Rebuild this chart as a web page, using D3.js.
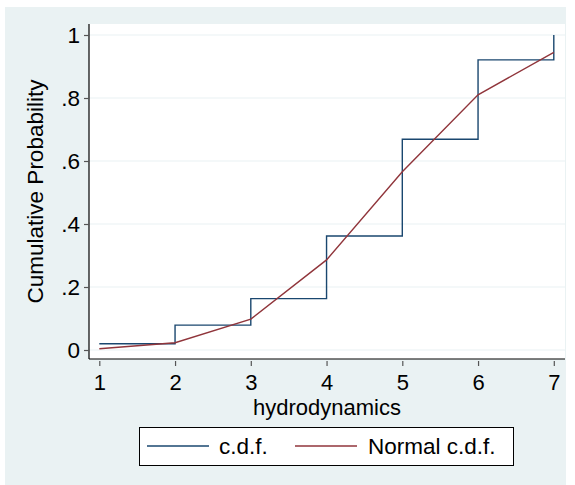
<!DOCTYPE html>
<html>
<head>
<meta charset="utf-8">
<script src="https://cdn.jsdelivr.net/npm/d3@7"></script>
<style>
  html, body { margin: 0; padding: 0; background: #ffffff; }
  svg { display: block; font-family: "Liberation Sans", Arial, sans-serif; }
</style>
</head>
<body>
<svg id="chart" width="575" height="485"></svg>
<script>
// ---- data ----
const xValues = [1, 2, 3, 4, 5, 6, 7];
const cdfValues = [0.02, 0.079, 0.163, 0.362, 0.669, 0.921, 1.0];
const normalValues = [0.004, 0.023, 0.098, 0.286, 0.566, 0.81, 0.945];
const xTicks = [1, 2, 3, 4, 5, 6, 7];
const yTicks = [0, 0.2, 0.4, 0.6, 0.8, 1];
const yTickLabels = ["0", ".2", ".4", ".6", ".8", "1"];
const seriesNames = ["c.d.f.", "Normal c.d.f."];
const seriesColors = ["#1a476f", "#90353b"];

// ---- layout ----
const svg = d3.select("#chart");
const bg = "#eaf2f3";
const plot = { left: 89, right: 565, top: 24, bottom: 359 };
const fontSize = 22.5;
const tickFont = 22;

svg.append("rect").attr("x", 5).attr("y", 7).attr("width", 561).attr("height", 478).attr("fill", bg);
svg.append("rect").attr("x", plot.left).attr("y", plot.top)
  .attr("width", plot.right - plot.left).attr("height", plot.bottom - plot.top).attr("fill", "#ffffff");

const x = d3.scaleLinear().domain([1, 7]).range([99.3, 553.8]);
const y = d3.scaleLinear().domain([0, 1]).range([350, 35]);

// gridlines
svg.append("g").selectAll("line").data(yTicks).join("line")
  .attr("x1", plot.left).attr("x2", plot.right)
  .attr("y1", d => y(d)).attr("y2", d => y(d))
  .attr("stroke", bg).attr("stroke-width", 1.2);

// y axis
const yAxis = svg.append("g").attr("transform", `translate(${plot.left},0)`)
  .call(d3.axisLeft(y).tickValues(yTicks).tickFormat((d, i) => yTickLabels[i]).tickSize(5).tickPadding(4));
yAxis.select(".domain").attr("d", `M0,${plot.top}V${plot.bottom}`).attr("stroke", "#000").attr("stroke-width", 1.2);
yAxis.selectAll(".tick line").attr("stroke", "#555").attr("stroke-width", 1.2);
yAxis.selectAll(".tick text").attr("font-size", fontSize).attr("fill", "#000")
  .attr("font-family", "Liberation Sans, Arial, sans-serif");

// x axis
const xAxis = svg.append("g").attr("transform", `translate(0,${plot.bottom})`)
  .call(d3.axisBottom(x).tickValues(xTicks).tickFormat(d3.format("d")).tickSize(7).tickPadding(8.5));
xAxis.select(".domain").attr("d", `M${plot.left},0H${plot.right}`).attr("stroke", "#000").attr("stroke-width", 1.2);
xAxis.selectAll(".tick line").attr("stroke", "#555").attr("stroke-width", 1.2).attr("y1", 2);
xAxis.selectAll(".tick text").attr("font-size", tickFont).attr("fill", "#000")
  .attr("font-family", "Liberation Sans, Arial, sans-serif");

// series
const cdfData = xValues.map((v, i) => [v, cdfValues[i]]);
const normData = xValues.map((v, i) => [v, normalValues[i]]);

svg.append("path").datum(cdfData)
  .attr("fill", "none").attr("stroke", seriesColors[0]).attr("stroke-width", 1.4)
  .attr("d", d3.line().x(d => x(d[0])).y(d => y(d[1])).curve(d3.curveStepAfter));

svg.append("path").datum(normData)
  .attr("fill", "none").attr("stroke", seriesColors[1]).attr("stroke-width", 1.4)
  .attr("d", d3.line().x(d => x(d[0])).y(d => y(d[1])));

// axis titles
svg.append("text").attr("x", (plot.left + plot.right) / 2).attr("y", 415)
  .attr("text-anchor", "middle").attr("font-size", 22).attr("fill", "#000")
  .text("hydrodynamics");

svg.append("text").attr("transform", "translate(43,191.5) rotate(-90)")
  .attr("text-anchor", "middle").attr("font-size", fontSize).attr("fill", "#000")
  .text("Cumulative Probability");

// legend
const legend = svg.append("g");
legend.append("rect").attr("x", 139.5).attr("y", 427.5).attr("width", 374).attr("height", 38)
  .attr("fill", "#fff").attr("stroke", "#000").attr("stroke-width", 1);
const legendItems = [
  { x1: 147, x2: 209, tx: 219 },
  { x1: 295, x2: 357, tx: 368 }
];
legendItems.forEach((it, i) => {
  legend.append("line").attr("x1", it.x1).attr("x2", it.x2).attr("y1", 446).attr("y2", 446)
    .attr("stroke", seriesColors[i]).attr("stroke-width", 1.4);
  legend.append("text").attr("x", it.tx).attr("y", 454).attr("font-size", fontSize).attr("fill", "#000")
    .text(seriesNames[i]);
});
</script>
</body>
</html>
